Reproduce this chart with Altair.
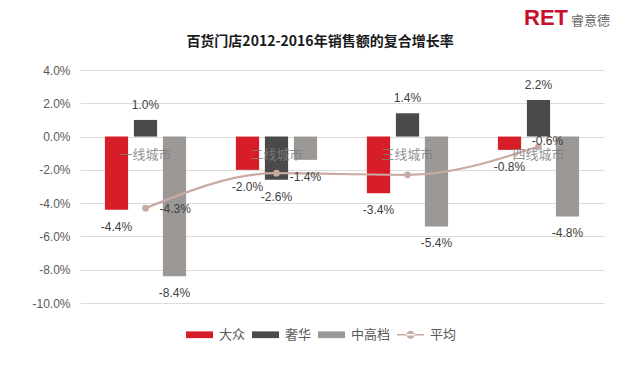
import altair as alt
import pandas as pd

categories = ["一线城市", "二线城市", "三线城市", "四线城市"]
series_names = ["大众", "奢华", "中高档"]
dazhong = [-4.4, -2.0, -3.4, -0.8]
shehua = [1.0, -2.6, 1.4, 2.2]
zhonggao = [-8.4, -1.4, -5.4, -4.8]
average = [-4.3, -2.2, -2.3, -0.6]
average_labels = ["-4.3%", "", "", "-0.6%"]
y_domain = [-10, 4]
colors = ["#d71e28", "#4a4a4a", "#9b9896", "#c9aaa2"]
title_text = "百货门店2012-2016年销售额的复合增长率"

FONT = "Liberation Sans, Noto Sans CJK SC"

rows = []
for name, vals in zip(series_names, [dazhong, shehua, zhonggao]):
    for c, v in zip(categories, vals):
        rows.append({"城市": c, "类别": name, "值": v, "标签": f"{v:.1f}%"})
bars_df = pd.DataFrame(rows)
avg_df = pd.DataFrame({"城市": categories, "值": average, "标签": average_labels,
                       "类别": ["平均"] * 4})
cat_df = pd.DataFrame({"城市": categories})
one_df = pd.DataFrame({"城市": categories[:1]})

xscale = alt.Scale(domain=categories, paddingInner=0.336, paddingOuter=0.168)
yscale = alt.Scale(domain=y_domain, nice=False)
color_scale = alt.Scale(domain=series_names + ["平均"], range=colors)

legend = alt.Legend(
    orient="none", legendX=106, legendY=251, direction="horizontal", title=None,
    symbolSize=729, symbolStrokeWidth=0, labelFontSize=13, labelColor="#595959",
    labelFont=FONT, columnPadding=6, labelOffset=6, symbolOpacity=1,
    symbolType=alt.ExprRef(expr=
        "datum.value === '平均' ? 'M-1,-0.06H1V0.06H-1Z M-0.3,0A0.3,0.3 0 1,0 0.3,0A0.3,0.3 0 1,0 -0.3,0Z' : 'M-1,-0.25H1V0.25H-1Z'"),
)

x = alt.X("城市:N", scale=xscale, axis=None, sort=categories)
y = alt.Y("值:Q", scale=yscale, title=None,
          axis=alt.Axis(tickCount=8,
                        labelExpr="replace(format(datum.value, '.1f'), '\u2212', '-') + '%'",
                        grid=True, gridColor="#dcdcdc", domain=False, ticks=False,
                        labelFontSize=12, labelColor="#595959", labelFont=FONT,
                        labelPadding=10, labelOverlap=False))
xoff = alt.XOffset("类别:N", sort=series_names,
                   scale=alt.Scale(domain=series_names, paddingInner=0.2, paddingOuter=0.1))

bars = alt.Chart(bars_df).mark_bar().encode(
    x=x, y=y, xOffset=xoff,
    color=alt.Color("类别:N", scale=color_scale, legend=legend, sort=series_names + ["平均"]),
)

pos_labels = alt.Chart(bars_df).transform_filter("datum['值'] >= 0").mark_text(
    dy=-15, fontSize=12, color="#404040", font=FONT, baseline="middle"
).encode(x=x, y=y, xOffset=xoff, text="标签:N")

neg_labels = alt.Chart(bars_df).transform_filter("datum['值'] < 0").mark_text(
    dy=17, fontSize=12, color="#404040", font=FONT, baseline="middle"
).encode(x=x, y=y, xOffset=xoff, text="标签:N")

line = alt.Chart(avg_df).mark_line(interpolate="monotone", strokeWidth=2.2).encode(
    x=x, y=y, color=alt.Color("类别:N", scale=color_scale, legend=legend))

points = alt.Chart(avg_df).mark_circle(size=45, opacity=1).encode(
    x=x, y=y, color=alt.Color("类别:N", scale=color_scale, legend=legend))

avg_lab1 = alt.Chart(avg_df).transform_filter(f"datum['城市'] == '{categories[0]}'").mark_text(
    align="left", dx=14, dy=1, fontSize=12, color="#404040", font=FONT, baseline="middle"
).encode(x=x, y=y, text="标签:N")

avg_lab4 = alt.Chart(avg_df).transform_filter(f"datum['城市'] == '{categories[3]}'").mark_text(
    align="center", dx=9, dy=-6, fontSize=12, color="#404040", font=FONT, baseline="middle"
).encode(x=x, y=y, text="标签:N")

cat_labels = alt.Chart(cat_df).mark_text(
    dy=18, fontSize=13, color="#808080", opacity=0.85, font=FONT, baseline="middle"
).encode(x=x, y=alt.datum(0, scale=yscale), text="城市:N")

title = alt.Chart(one_df).mark_text(
    text=title_text, fontSize=14, fontWeight="bold", color="#1a1a1a",
    font="Noto Sans CJK SC", align="center", baseline="middle"
).encode(x=alt.value(240), y=alt.value(-28))

logo_ret = alt.Chart(one_df).mark_text(
    text="RET", fontSize=22, fontWeight="bold", color="#c8102e", font="Liberation Sans",
    align="left", baseline="alphabetic"
).encode(x=alt.value(444), y=alt.value(-45))

logo_cn = alt.Chart(one_df).mark_text(
    text="睿意德", fontSize=13, color="#666666", font="Noto Sans CJK SC",
    align="left", baseline="alphabetic"
).encode(x=alt.value(491), y=alt.value(-45))

chart = alt.layer(
    bars, line, points, pos_labels, neg_labels, avg_lab1, avg_lab4, cat_labels,
    title, logo_ret, logo_cn
).properties(
    width=524, height=233,
    padding={"left": 72, "top": 62, "right": 28, "bottom": 69},
    autosize=alt.AutoSizeParams(type="none"),
).configure_view(stroke=None)

chart.save("out.html", embed_options={"renderer": "svg", "actions": False})
